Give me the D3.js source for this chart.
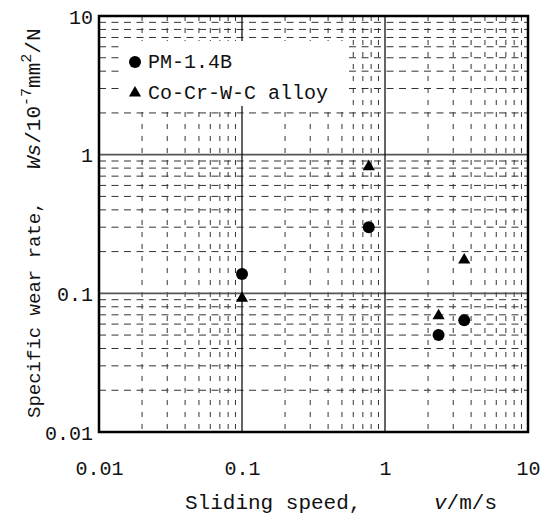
<!DOCTYPE html>
<html>
<head>
<meta charset="utf-8">
<script src="https://cdn.jsdelivr.net/npm/d3@7"></script>
<style>
	body { margin: 0; background: #fff; }
	svg { display: block; }
	text { font-family: 'Liberation Mono', 'DejaVu Sans Mono', monospace; fill: #111; }
</style>
</head>
<body>
<svg id="chart" width="545" height="515"></svg>
<script>
//Values
const tickValues = [0.01, 0.1, 1, 10]
const tickLabels = ['0.01', '0.1', '1', '10']
const pmSpeed = [0.1, 0.77, 2.37, 3.58]
const pmRate = [0.138, 0.3, 0.05, 0.064]
const alloySpeed = [0.1, 0.77, 2.37, 3.58]
const alloyRate = [0.092, 0.82, 0.069, 0.174]
const seriesNames = ['PM-1.4B', 'Co-Cr-W-C alloy']

const svg = d3.select('#chart')
const plotLeft = 99
const plotRight = 528
const plotTop = 16
const plotBottom = 432

const x = d3.scaleLog().domain([0.01, 10]).range([plotLeft, plotRight])
const y = d3.scaleLog().domain([0.01, 10]).range([plotBottom, plotTop])

//Minor grid values 2..9 in every decade
const minor = []
tickValues.slice(0, 3).forEach(d => {
	for (let k = 2; k <= 9; k++) minor.push(d * k)
})

const grid = svg.append('g')

grid
	.selectAll(null)
	.data(minor)
	.enter()
	.append('line')
	.attr('x1', plotLeft)
	.attr('x2', plotRight)
	.attr('y1', d => y(d))
	.attr('y2', d => y(d))
	.attr('stroke', '#333')
	.attr('stroke-width', 1)
	.attr('stroke-dasharray', '7,5.5')

grid
	.selectAll(null)
	.data(minor)
	.enter()
	.append('line')
	.attr('y1', plotTop)
	.attr('y2', plotBottom)
	.attr('x1', d => x(d))
	.attr('x2', d => x(d))
	.attr('stroke', '#333')
	.attr('stroke-width', 1)
	.attr('stroke-dasharray', '5,7')

//Solid decade lines
const majors = tickValues.slice(1, 3)

grid
	.selectAll(null)
	.data(majors)
	.enter()
	.append('line')
	.attr('x1', plotLeft)
	.attr('x2', plotRight)
	.attr('y1', d => y(d))
	.attr('y2', d => y(d))
	.attr('stroke', '#555')
	.attr('stroke-width', 1.6)

grid
	.selectAll(null)
	.data(majors)
	.enter()
	.append('line')
	.attr('y1', plotTop)
	.attr('y2', plotBottom)
	.attr('x1', d => x(d))
	.attr('x2', d => x(d))
	.attr('stroke', '#111')
	.attr('stroke-width', 1.3)

//Frame
svg
	.append('rect')
	.attr('x', plotLeft)
	.attr('y', plotTop)
	.attr('width', plotRight - plotLeft)
	.attr('height', plotBottom - plotTop)
	.attr('fill', 'none')
	.attr('stroke', '#000')
	.attr('stroke-width', 2.5)

//Axes, only the labels are shown
const xAxis = svg
	.append('g')
	.attr('transform', 'translate(0,' + plotBottom + ')')
	.call(d3.axisBottom(x).tickValues(tickValues).tickSize(0).tickFormat((d, i) => tickLabels[i]))

xAxis.select('.domain').remove()
xAxis
	.selectAll('text')
	.attr('dy', null)
	.attr('y', 43)
	.style('font-size', '20px')

const yAxis = svg
	.append('g')
	.attr('transform', 'translate(' + plotLeft + ',0)')
	.call(d3.axisLeft(y).tickValues(tickValues).tickSize(0).tickFormat((d, i) => tickLabels[i]))

yAxis.select('.domain').remove()
yAxis
	.selectAll('text')
	.attr('x', -6)
	.attr('dy', '0.35em')
	.style('font-size', '20px')

svg.selectAll('.tick text').attr('fill', '#111')
svg.selectAll('.tick').attr('font-family', null)

//Axis titles
const xTitle = svg.append('text').attr('x', 185).attr('y', 509).style('font-size', '21px')
xTitle.append('tspan').text('Sliding speed,')
xTitle.append('tspan').attr('x', 434).style('font-style', 'italic').text('v')
xTitle.append('tspan').text('/m/s')

const yTitle = svg
	.append('text')
	.attr('transform', 'translate(40,418) rotate(-90)')
	.style('font-size', '19px')
yTitle.append('tspan').text('Specific wear rate,')
yTitle.append('tspan').attr('x', 249).style('font-style', 'italic').style('font-size', '21px').text('Ws')
yTitle.append('tspan').style('font-size', '21px').text('/10')
yTitle.append('tspan').attr('dy', -9).style('font-size', '15px').text('-7')
yTitle.append('tspan').attr('dy', 9).style('font-size', '21px').text('mm')
yTitle.append('tspan').attr('dy', -9).style('font-size', '15px').text('2')
yTitle.append('tspan').attr('dy', 9).style('font-size', '21px').text('/N')

//Legend box hides the grid behind it
const legend = svg.append('g')

legend.append('rect').attr('x', 121).attr('y', 41).attr('width', 227).attr('height', 65).attr('fill', '#fff')

const triangle = d3.symbol(d3.symbolTriangle, 64)

legend.append('circle').attr('cx', 135).attr('cy', 62).attr('r', 6).attr('fill', '#000')
legend.append('path').attr('d', triangle).attr('transform', 'translate(135,93)').attr('fill', '#000')

legend
	.selectAll(null)
	.data(seriesNames)
	.enter()
	.append('text')
	.attr('x', 148)
	.attr('y', (d, i) => 68 + i * 31)
	.style('font-size', '20px')
	.text(d => d)

//Data points
const pm = pmSpeed.map((d, i) => ({ speed: d, rate: pmRate[i] }))
const alloy = alloySpeed.map((d, i) => ({ speed: d, rate: alloyRate[i] }))

svg
	.append('g')
	.selectAll('circle')
	.data(pm)
	.enter()
	.append('circle')
	.attr('cx', d => x(d.speed))
	.attr('cy', d => y(d.rate))
	.attr('r', 6)
	.attr('fill', '#000')

svg
	.append('g')
	.selectAll('path')
	.data(alloy)
	.enter()
	.append('path')
	.attr('d', triangle)
	.attr('transform', d => 'translate(' + x(d.speed) + ',' + y(d.rate) + ')')
	.attr('fill', '#000')
</script>
</body>
</html>
